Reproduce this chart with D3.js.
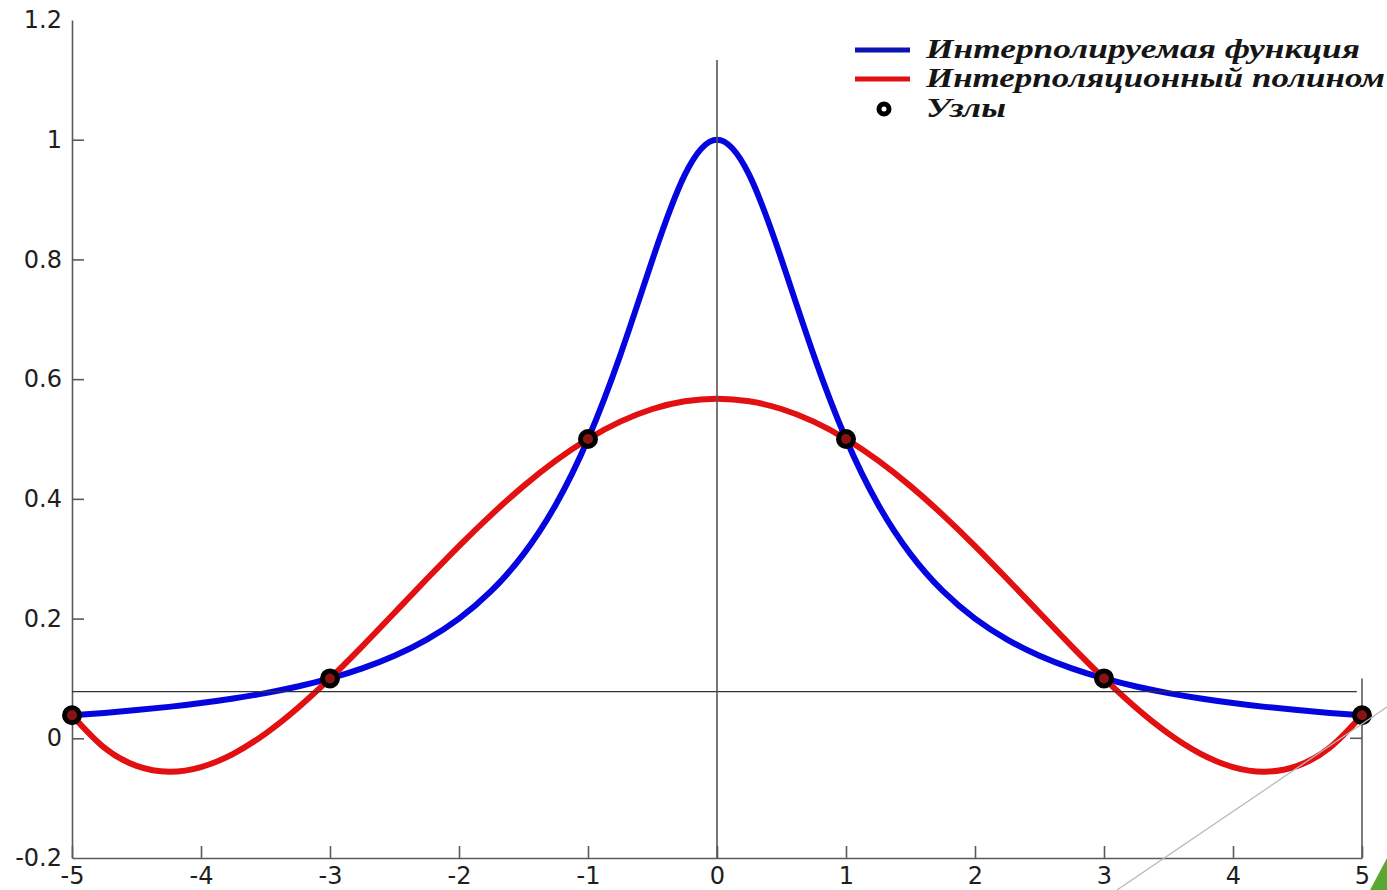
<!DOCTYPE html>
<html>
<head>
<meta charset="utf-8">
<script src="https://cdn.jsdelivr.net/npm/d3@7/dist/d3.min.js"></script>
<style>
  html, body { margin: 0; padding: 0; background: #fff; }
  svg { display: block; }
  .tick text { font-family: "DejaVu Sans", Arial, sans-serif; font-size: 24px; fill: #1e1e1e; }
  .legend text { font-family: "Liberation Serif", "Times New Roman", serif; font-style: italic; font-weight: bold; font-size: 27px; fill: #151515; }
</style>
</head>
<body>
<svg id="chart" width="1387" height="890"></svg>
<script>
// Sample abscissas on [-5, 5]
const xSamples = [-5, -4.75, -4.5, -4.25, -4, -3.75, -3.5, -3.25, -3, -2.75, -2.5, -2.25, -2, -1.75, -1.5, -1.25, -1, -0.75, -0.5, -0.25,
  0, 0.25, 0.5, 0.75, 1, 1.25, 1.5, 1.75, 2, 2.25, 2.5, 2.75, 3, 3.25, 3.5, 3.75, 4, 4.25, 4.5, 4.75, 5];

// Interpolated function (blue)
const functionValues = [0.0385, 0.0424, 0.0471, 0.0525, 0.0588, 0.0664, 0.0755, 0.0865, 0.1, 0.1168, 0.1379, 0.1649, 0.2, 0.2462, 0.3077, 0.3902, 0.5, 0.64, 0.8, 0.9412,
  1, 0.9412, 0.8, 0.64, 0.5, 0.3902, 0.3077, 0.2462, 0.2, 0.1649, 0.1379, 0.1168, 0.1, 0.0865, 0.0755, 0.0664, 0.0588, 0.0525, 0.0471, 0.0424, 0.0385];

// Interpolation polynomial (red)
const polynomialValues = [0.0385, -0.0157, -0.0460, -0.0558, -0.0481, -0.0260, 0.0078, 0.0506, 0.1, 0.1537, 0.2097, 0.2661, 0.3212, 0.3733, 0.4213, 0.4638, 0.5, 0.5290, 0.5501, 0.5630,
  0.5673, 0.5630, 0.5501, 0.5290, 0.5, 0.4638, 0.4213, 0.3733, 0.3212, 0.2661, 0.2097, 0.1537, 0.1, 0.0506, 0.0078, -0.0260, -0.0481, -0.0558, -0.0460, -0.0157, 0.0385];

// Interpolation nodes
const nodeX = [-5, -3, -1, 1, 3, 5];
const nodeY = [0.0385, 0.1, 0.5, 0.5, 0.1, 0.0385];

// Axis tick values
const xTicks = [-5, -4, -3, -2, -1, 0, 1, 2, 3, 4, 5];
const yTicks = [-0.2, 0, 0.2, 0.4, 0.6, 0.8, 1, 1.2];

// Reference lines
const horizontalLevel = 0.078;
const verticalTopValue = 1.133;

// Legend entries
const legendLabels = ["Интерполируемая функция", "Интерполяционный полином", "Узлы"];

const blue = "#0505e0";
const red = "#e21010";
const axisColor = "#5a5a5a";

const svg = d3.select("#chart");
const plotLeft = 72, plotRight = 1362, plotTop = 20, plotBottom = 858;

const x = d3.scaleLinear().domain([-5, 5]).range([plotLeft, plotRight]);
const y = d3.scaleLinear().domain([-0.2, 1.2]).range([plotBottom, plotTop]);

svg.append("rect").attr("width", 1387).attr("height", 890).attr("fill", "#fff");

// Curves
const line = d3.line().curve(d3.curveNatural);
const blueData = xSamples.map((v, i) => [x(v), y(functionValues[i])]);
const redData = xSamples.map((v, i) => [x(v), y(polynomialValues[i])]);

svg.append("path").attr("d", line(blueData))
  .attr("fill", "none").attr("stroke", blue).attr("stroke-width", 6)
  .attr("stroke-linejoin", "round").attr("stroke-linecap", "round");
svg.append("path").attr("d", line(redData))
  .attr("fill", "none").attr("stroke", red).attr("stroke-width", 6)
  .attr("stroke-linejoin", "round").attr("stroke-linecap", "round");

// Left axis with inward ticks
const yAxis = d3.axisLeft(y).tickValues(yTicks).tickSizeInner(-12).tickSizeOuter(0).tickPadding(10)
  .tickFormat(d => String(+d.toFixed(1)));
const gy = svg.append("g").attr("transform", `translate(${plotLeft},0)`).call(yAxis);
gy.select(".domain").attr("stroke", axisColor).attr("stroke-width", 1.6);
gy.selectAll(".tick line").attr("stroke", axisColor).attr("stroke-width", 1.6)
  .filter(d => d === 1.2 || d === -0.2).remove();

// Bottom axis with inward ticks
const xAxis = d3.axisBottom(x).tickValues(xTicks).tickSizeInner(-12).tickSizeOuter(0).tickPadding(7)
  .tickFormat(d => String(d));
const gx = svg.append("g").attr("transform", `translate(0,${plotBottom})`).call(xAxis);
gx.select(".domain").attr("stroke", axisColor).attr("stroke-width", 1.6);
gx.selectAll(".tick line").attr("stroke", axisColor).attr("stroke-width", 1.6);
gx.selectAll(".tick text").attr("dy", "0.78em");

// Right axis fragment with zero tick
svg.append("line")
  .attr("x1", x(5)).attr("x2", x(5)).attr("y1", y(0.1)).attr("y2", plotBottom)
  .attr("stroke", axisColor).attr("stroke-width", 1.6);
svg.append("line")
  .attr("x1", x(5) - 12).attr("x2", x(5)).attr("y1", y(0)).attr("y2", y(0))
  .attr("stroke", axisColor).attr("stroke-width", 1.6);

// Reference lines
svg.append("line")
  .attr("x1", x(-5)).attr("x2", x(4.96)).attr("y1", y(horizontalLevel)).attr("y2", y(horizontalLevel))
  .attr("stroke", "#333").attr("stroke-width", 1.4);
svg.append("line")
  .attr("x1", x(0)).attr("x2", x(0)).attr("y1", y(verticalTopValue)).attr("y2", plotBottom)
  .attr("stroke", "#555").attr("stroke-width", 1.6);

// Nodes
svg.append("g").selectAll("circle").data(nodeX).join("circle")
  .attr("cx", d => x(d)).attr("cy", (d, i) => y(nodeY[i]))
  .attr("r", 7.5).attr("fill", "#8a1414").attr("stroke", "#000").attr("stroke-width", 5);

// Legend
const legend = svg.append("g").attr("class", "legend");
const legendRows = [50, 79, 109];
const legendWidths = [434, 459, 80];
legend.append("line").attr("x1", 855).attr("x2", 910).attr("y1", legendRows[0]).attr("y2", legendRows[0])
  .attr("stroke", "#0b14b0").attr("stroke-width", 5);
legend.append("line").attr("x1", 855).attr("x2", 910).attr("y1", legendRows[1]).attr("y2", legendRows[1])
  .attr("stroke", red).attr("stroke-width", 5);
legend.append("circle").attr("cx", 884).attr("cy", legendRows[2]).attr("r", 5)
  .attr("fill", "#fff").attr("stroke", "#000").attr("stroke-width", 5);
legendLabels.forEach((t, i) => {
  legend.append("text").attr("x", 926).attr("y", legendRows[i] + 8)
    .attr("textLength", legendWidths[i]).attr("lengthAdjust", "spacingAndGlyphs")
    .text(t);
});

// Slide decoration at the lower right corner
svg.append("line").attr("x1", 1117).attr("y1", 890).attr("x2", 1387).attr("y2", 707)
  .attr("stroke", "#b8b8b8").attr("stroke-width", 1.3);
svg.append("path").attr("d", "M1387,858 L1387,890 L1370,890 Z").attr("fill", "#5aa832");
</script>
</body>
</html>
